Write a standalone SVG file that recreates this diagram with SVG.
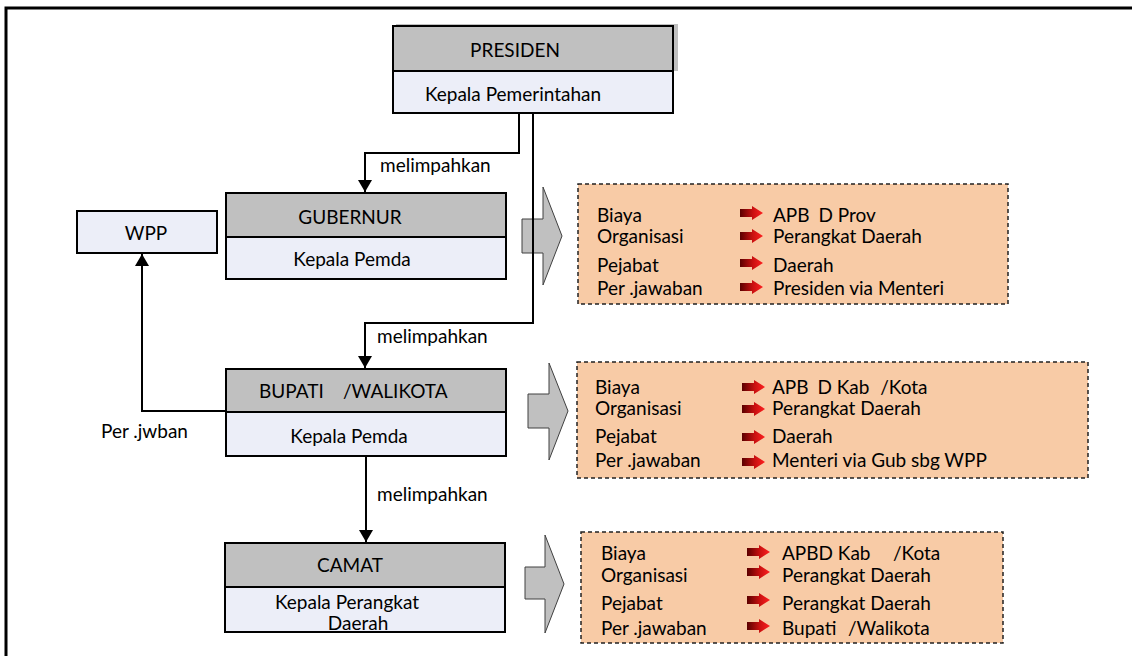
<svg xmlns="http://www.w3.org/2000/svg" width="1132" height="656" viewBox="0 0 1132 656">
<style>
text{font-family:Lato,"Liberation Sans",sans-serif;font-size:19px;fill:#000}
.hd{fill:#c0c0c0;stroke:#000;stroke-width:2}
.bd{fill:#eceef8;stroke:#000;stroke-width:2}
.ob{fill:#f8cba6;stroke:#222;stroke-width:1.5;stroke-dasharray:4 3}
.ba{fill:#c0c0c0;stroke:#404040;stroke-width:1}
.cn{fill:none;stroke:#000;stroke-width:2}
.mid{text-anchor:middle}
</style>
<defs>
<marker id="ah" viewBox="0 0 12 14" refX="12" refY="7" markerWidth="12" markerHeight="14" markerUnits="userSpaceOnUse" orient="auto">
<path d="M0,0 L12,7 L0,14 Z" fill="#000"/>
</marker>
<linearGradient id="rg" x1="0" y1="0" x2="1" y2="0">
<stop offset="0" stop-color="#5a0000"/>
<stop offset="0.55" stop-color="#c81010"/>
<stop offset="1" stop-color="#ff2020"/>
</linearGradient>
<path id="ra" d="M0,-4 H12 V-7 L23,0 L12,7 V4 H0 Z" fill="url(#rg)"/>
</defs>
<rect width="1132" height="656" fill="#fff"/>
<path d="M6,656 V8 H1132" fill="none" stroke="#000" stroke-width="3"/>

<g id="presiden">
<rect x="396" y="24" width="282" height="47" fill="#c0c0c0"/>
<rect class="hd" x="393" y="26" width="280" height="45"/>
<rect class="bd" x="393" y="71" width="280" height="42"/>
<text x="515" y="57" class="mid">PRESIDEN</text>
<text x="513" y="101" class="mid">Kepala Pemerintahan</text>
</g>

<g id="gubernur">
<rect class="hd" x="226" y="193" width="280" height="44"/>
<rect class="bd" x="226" y="237" width="280" height="42"/>
<text x="350" y="224" class="mid">GUBERNUR</text>
<text x="352" y="266" class="mid">Kepala Pemda</text>
</g>

<g id="wpp">
<rect class="bd" x="77" y="211" width="140" height="42"/>
<text x="146" y="240" class="mid">WPP</text>
</g>

<g id="bupati">
<rect class="hd" x="226" y="369" width="280" height="43"/>
<rect class="bd" x="226" y="412" width="280" height="44"/>
<text x="259" y="398">BUPATI <tspan x="343">/WALIKOTA</tspan></text>
<text x="349" y="443" class="mid">Kepala Pemda</text>
</g>

<g id="camat">
<rect class="hd" x="225" y="543" width="280" height="44"/>
<rect class="bd" x="225" y="587" width="280" height="45"/>
<text x="350" y="572" class="mid">CAMAT</text>
<text x="347" y="609" class="mid">Kepala Perangkat</text>
<text x="358" y="630" class="mid">Daerah</text>
</g>

<g id="block-arrows">
<path class="ba" d="M522,219 H543 V187 L562,236 L543,285 V253 H522 Z"/>
<path class="ba" d="M528,394 H549 V363 L568,411 L549,460 V428 H528 Z"/>
<path class="ba" d="M525,567 H545 V535 L564,584 L545,633 V599 H525 Z"/>
</g>

<g id="connectors">
<path class="cn" d="M519,113 V153 H365 V192" marker-end="url(#ah)"/>
<path class="cn" d="M533,113 V323 H365 V368" marker-end="url(#ah)"/>
<path class="cn" d="M226,411 H142 V254" marker-end="url(#ah)"/>
<path class="cn" d="M366,456 V542" marker-end="url(#ah)"/>
<text x="380" y="172">melimpahkan</text>
<text x="377" y="343">melimpahkan</text>
<text x="377" y="501">melimpahkan</text>
<text x="101" y="438">Per .jwban</text>
</g>

<g id="info-gubernur">
<rect class="ob" x="578" y="184" width="430" height="120"/>
<text x="597" y="222">Biaya</text>
<text x="597" y="243">Organisasi</text>
<text x="597" y="272">Pejabat</text>
<text x="597" y="295">Per .jawaban</text>
<use href="#ra" x="740" y="213"/>
<use href="#ra" x="740" y="236"/>
<use href="#ra" x="740" y="263"/>
<use href="#ra" x="740" y="287"/>
<text x="773" y="222">APB <tspan dx="4">D Prov</tspan></text>
<text x="773" y="243">Perangkat Daerah</text>
<text x="773" y="272">Daerah</text>
<text x="773" y="295">Presiden via Menteri</text>
</g>

<g id="info-bupati">
<rect class="ob" x="577" y="362" width="511" height="116"/>
<text x="595" y="394">Biaya</text>
<text x="595" y="415">Organisasi</text>
<text x="595" y="443">Pejabat</text>
<text x="595" y="467">Per .jawaban</text>
<use href="#ra" x="742" y="387"/>
<use href="#ra" x="742" y="409"/>
<use href="#ra" x="742" y="437"/>
<use href="#ra" x="742" y="462"/>
<text x="772" y="394">APB <tspan dx="4">D Kab </tspan><tspan dx="6">/Kota</tspan></text>
<text x="772" y="415">Perangkat Daerah</text>
<text x="772" y="443">Daerah</text>
<text x="772" y="467">Menteri via Gub sbg WPP</text>
</g>

<g id="info-camat">
<rect class="ob" x="581" y="532" width="422" height="111"/>
<text x="601" y="560">Biaya</text>
<text x="601" y="582">Organisasi</text>
<text x="601" y="610">Pejabat</text>
<text x="601" y="635">Per .jawaban</text>
<use href="#ra" x="747" y="552"/>
<use href="#ra" x="747" y="572"/>
<use href="#ra" x="747" y="600"/>
<use href="#ra" x="747" y="626"/>
<text x="782" y="560">APBD Kab <tspan x="893">/Kota</tspan></text>
<text x="782" y="582">Perangkat Daerah</text>
<text x="782" y="610">Perangkat Daerah</text>
<text x="782" y="635">Bupati <tspan x="848">/Walikota</tspan></text>
</g>
</svg>
